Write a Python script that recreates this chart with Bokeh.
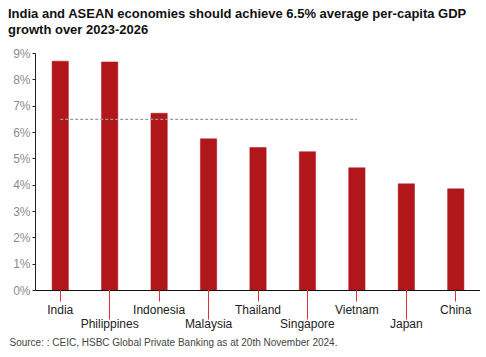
from bokeh.plotting import figure
from bokeh.layouts import column
from bokeh.models import (Range1d, LinearAxis, FixedTicker, PrintfTickFormatter, Title, Div, ColumnDataSource)
from bokeh.embed import file_html
from bokeh.resources import INLINE

categories = ["India", "Philippines", "Indonesia", "Malaysia", "Thailand",
              "Singapore", "Vietnam", "Japan", "China"]
growth = [8.71, 8.68, 6.73, 5.76, 5.43, 5.27, 4.66, 4.05, 3.86]
target = 6.5
target_from, target_to = "India", "Vietnam"
y_ticks = [0, 1, 2, 3, 4, 5, 6, 7, 8, 9]
title_lines = ["India and ASEAN economies should achieve 6.5% average per-capita GDP",
               "growth over 2023-2026"]
source_text = "Source: : CEIC, HSBC Global Private Banking as at 20th November 2024."

FONT = "Liberation Sans"
idx = list(range(len(categories)))
src = ColumnDataSource(dict(x=idx, top=growth, name=categories))

title_div = Div(
    text=('<div style="font-family:\'Liberation Sans\';font-size:13px;font-weight:bold;'
          'line-height:16px;color:#111111;padding:6px 0 0 8px;margin:0;white-space:nowrap;">'
          + "<br>".join(title_lines) + "</div>"),
    width=480, height=38, margin=(0, 0, 0, 0))

p = figure(width=480, height=314, output_backend="svg", toolbar_location=None,
           x_range=Range1d(-0.5, len(categories) - 0.5), y_range=Range1d(0, 9),
           x_axis_type=None, y_axis_type=None,
           min_border_left=35, min_border_right=0, min_border_top=15, min_border_bottom=62)
p.margin = (0, 0, 0, 0)
p.outline_line_color = None
p.xgrid.visible = False
p.ygrid.visible = False
p.background_fill_color = "white"
p.border_fill_color = "white"

p.vbar(x="x", top="top", width=0.33, bottom=0, source=src,
       fill_color="#B1161B", line_color="#B1161B", line_width=0.5)

i0, i1 = categories.index(target_from), categories.index(target_to)
p.line([i0, i1], [target, target], line_color="#9a9a9a", line_width=1.2, line_dash="3 2")

# y axis
ya = LinearAxis(ticker=FixedTicker(ticks=y_ticks), formatter=PrintfTickFormatter(format="%d%%"))
ya.axis_line_color = "#222222"
ya.major_tick_line_color = "#222222"
ya.major_tick_out = 3
ya.major_tick_in = 0
ya.minor_tick_line_color = None
ya.major_label_text_font = FONT
ya.major_label_text_font_size = "12px"
ya.major_label_text_color = "#8c8c8c"
ya.major_label_standoff = 2
p.add_layout(ya, "left")

even = [i for i in idx if i % 2 == 0]
odd = [i for i in idx if i % 2 == 1]

xa = LinearAxis(ticker=FixedTicker(ticks=even),
                major_label_overrides={i: categories[i] for i in even})
xa.axis_line_color = "#111111"
xa.major_tick_line_color = "#E0303A"
xa.major_tick_out = 11
xa.major_tick_in = 0
xa.minor_tick_line_color = None
xa.major_label_text_font = FONT
xa.major_label_text_font_size = "12px"
xa.major_label_text_color = "#222222"
xa.major_label_standoff = 1
p.add_layout(xa, "below")

xb = LinearAxis(ticker=FixedTicker(ticks=odd),
                major_label_overrides={i: categories[i] for i in odd})
xb.axis_line_color = None
xb.major_tick_line_color = "#E0303A"
xb.major_tick_out = 0
xb.major_tick_in = 30
xb.minor_tick_line_color = None
xb.major_label_text_font = FONT
xb.major_label_text_font_size = "12px"
xb.major_label_text_color = "#222222"
xb.major_label_standoff = -3
p.add_layout(xb, "below")

s = Title(text=source_text, align="left", offset=-26, text_font=FONT,
          text_font_size="10px", text_font_style="normal", text_color="#444444", standoff=3)
p.add_layout(s, "below")

layout = column(title_div, p, spacing=0, margin=(0, 0, 0, 0))

open("out.html", "w").write(file_html(layout, INLINE))
